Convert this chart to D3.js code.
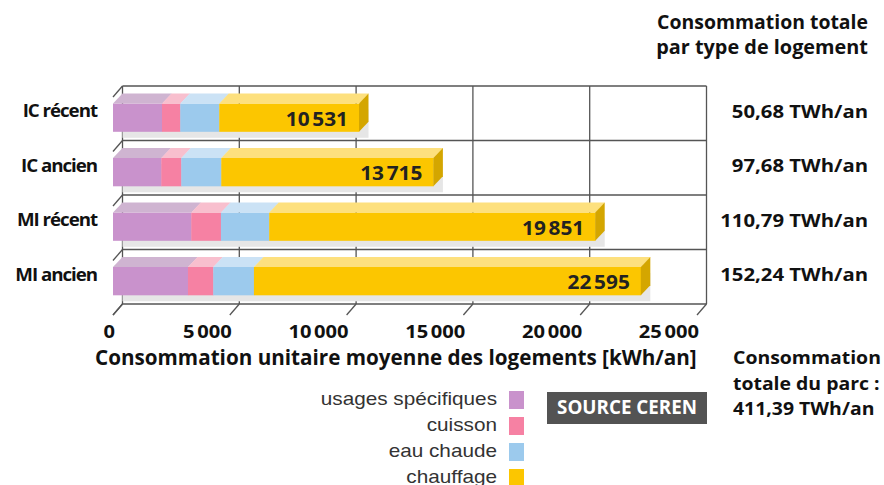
<!DOCTYPE html>
<html>
<head>
	<meta charset="utf-8">
	<script src="https://cdnjs.cloudflare.com/ajax/libs/d3/7.8.5/d3.min.js"></script>
	<style>
	body { margin: 0; background: #fff; }
	text { font-family: "Open Sans", sans-serif; }
	.bold { font-weight: bold; fill: #111; }
	.legend text { font-family: "Liberation Sans", Arial, sans-serif; fill: #333; }
	.wall line { stroke: #555; stroke-width: 1.3px; }
	</style>
</head>
<body>
	<svg width="884" height="485"></svg>
	<script>
	// data
	let categories = ["IC récent", "IC ancien", "MI récent", "MI ancien"];
	let usagesSpecifiques = [2097, 2067, 3350, 3209];
	let cuisson = [783, 856, 1270, 1083];
	let eauChaude = [1669, 1712, 2067, 1741];
	let chauffage = [5982, 9080, 13955, 16562];
	let totalLabels = [10531, 13715, 19851, 22595];
	let totalTWh = ["50,68", "97,68", "110,79", "152,24"];
	let xTicks = [0, 5000, 10000, 15000, 20000, 25000];

	let seriesNames = ["usages spécifiques", "cuisson", "eau chaude", "chauffage"];
	let frontColors = ["#c992cc", "#f681a3", "#9ccaed", "#fcc600"];
	let topColors = ["#cfb4d1", "#f8bfce", "#cbe2f5", "#fde07e"];
	let sideColor = "#d4a600";

	let svg = d3.select("svg");

	//scales
	let x = d3.scaleLinear().domain([0, 25000]).range([113, 697]);
	let y = d3.scaleBand().domain(categories).range([86, 304]);
	let dx = 9.5, dy = 11;      // depth of the back wall
	let bdx = 9.5, bdy = 10;    // depth of the bars
	let barOff = 17.5, barH = 28.3;

	let fmt = function(v) { return d3.format(",")(v).replace(/,/g, "\u202F"); };

	//fit text to a measured width by scaling font size
	function fit(sel, w) {
		sel.each(function() {
			let fs = parseFloat(this.getAttribute("font-size"));
			let l = this.getComputedTextLength();
			this.setAttribute("font-size", (fs * w / l).toFixed(2));
		});
	}
	//stretch text horizontally by a factor
	function widen(sel, f) {
		sel.each(function() {
			let l = this.getComputedTextLength();
			this.setAttribute("textLength", (l * f).toFixed(1));
			this.setAttribute("lengthAdjust", "spacingAndGlyphs");
		});
	}

	//back wall
	let wall = svg.append("g").attr("class", "wall");
	wall.selectAll(".v").data(xTicks).enter().append("line")
		.attr("x1", d => x(d) + dx).attr("x2", d => x(d) + dx)
		.attr("y1", 86).attr("y2", 304);
	let hLines = categories.map(c => y(c)).concat([304]);
	wall.selectAll(".h").data(hLines).enter().append("line")
		.attr("x1", x(0) + dx).attr("x2", x(25000) + dx)
		.attr("y1", d => d).attr("y2", d => d);
	wall.selectAll(".dl").data(hLines).enter().append("line")
		.attr("x1", x(0) + dx).attr("x2", x(0))
		.attr("y1", d => d).attr("y2", d => d + dy);
	wall.selectAll(".db").data(xTicks).enter().append("line")
		.attr("x1", d => x(d) + dx).attr("x2", d => x(d))
		.attr("y1", 304).attr("y2", 304 + dy);

	//stack
	let rows = categories.map(function(c, i) {
		let vals = [usagesSpecifiques[i], cuisson[i], eauChaude[i], chauffage[i]];
		let acc = 0, segs = vals.map(function(v, k) {
			let s = {k: k, x0: acc, x1: acc + v};
			acc += v;
			return s;
		});
		return {cat: c, segs: segs, total: acc, label: totalLabels[i], twh: totalTWh[i]};
	});

	let bar = svg.selectAll(".bar").data(rows).enter().append("g").attr("class", "bar");

	//shadow
	bar.append("rect")
		.attr("x", x(0) + bdx)
		.attr("y", d => y(d.cat) + barOff + 6)
		.attr("width", d => x(d.total) - x(0))
		.attr("height", barH)
		.attr("fill", "#e6e6e6");

	//front faces
	bar.selectAll(".front").data(d => d.segs.map(s => Object.assign({cat: d.cat}, s))).enter().append("rect")
		.attr("x", s => x(s.x0))
		.attr("y", s => y(s.cat) + barOff)
		.attr("width", s => x(s.x1) - x(s.x0) + 0.3)
		.attr("height", barH)
		.attr("fill", s => frontColors[s.k]);

	//top faces
	bar.selectAll(".top").data(d => d.segs.map(s => Object.assign({cat: d.cat}, s))).enter().append("path")
		.attr("d", function(s) {
			let t = y(s.cat) + barOff, a = x(s.x0), b = x(s.x1) + 0.3;
			return "M" + a + "," + t + "L" + b + "," + t + "L" + (b + bdx) + "," + (t - bdy) + "L" + (a + bdx) + "," + (t - bdy) + "Z";
		})
		.attr("fill", s => topColors[s.k]);

	//side face
	bar.append("path")
		.attr("d", function(d) {
			let t = y(d.cat) + barOff, b = x(d.total);
			return "M" + b + "," + t + "L" + (b + bdx) + "," + (t - bdy) + "L" + (b + bdx) + "," + (t - bdy + barH) + "L" + b + "," + (t + barH) + "Z";
		})
		.attr("fill", sideColor);

	//value labels
	bar.append("text")
		.attr("class", "bold")
		.attr("x", d => x(d.total) - 11)
		.attr("y", d => y(d.cat) + barOff + 22)
		.attr("text-anchor", "end")
		.attr("font-size", 20)
		.style("fill", "#222")
		.text(d => fmt(d.label))
		.call(widen, 1.04);

	//category labels
	svg.selectAll(".cat").data(rows).enter().append("text")
		.attr("class", "bold")
		.attr("x", 97)
		.attr("y", d => y(d.cat) + y.bandwidth() / 2 + 4)
		.attr("text-anchor", "end")
		.attr("font-size", 18)
		.attr("letter-spacing", -1)
		.text(d => d.cat)
		.call(widen, 1.04);

	//right totals
	svg.selectAll(".twh").data(rows).enter().append("text")
		.attr("class", "bold")
		.attr("x", 868)
		.attr("y", d => y(d.cat) + y.bandwidth() / 2 + 4.5)
		.attr("text-anchor", "end")
		.attr("font-size", 17.5)
		.text(d => d.twh + " TWh/an")
		.call(widen, 1.16);

	//x tick labels
	svg.selectAll(".tick").data(xTicks).enter().append("text")
		.attr("class", "bold")
		.attr("x", d => x(d) + 2)
		.attr("y", 338)
		.attr("text-anchor", "end")
		.attr("font-size", 17.5)
		.text(d => fmt(d))
		.call(widen, 1.15);

	svg.append("text")
		.attr("class", "bold")
		.attr("x", 95).attr("y", 365)
		.attr("font-size", 17)
		.text("Consommation unitaire moyenne des logements [kWh/an]")
		.call(fit, 602);

	//top right title
	svg.append("text").attr("class", "bold").attr("x", 868).attr("y", 29)
		.attr("text-anchor", "end").attr("font-size", 17)
		.text("Consommation totale").call(fit, 211);
	svg.append("text").attr("class", "bold").attr("x", 868).attr("y", 54)
		.attr("text-anchor", "end").attr("font-size", 17)
		.text("par type de logement").call(fit, 212);

	//bottom right total
	let park = ["Consommation", "totale du parc :", "411,39 TWh/an"];
	svg.selectAll(".park").data(park).enter().append("text")
		.attr("class", "bold")
		.attr("x", 733)
		.attr("y", (d, i) => 364 + i * 25.5)
		.attr("font-size", 17.5)
		.text(d => d)
		.call(widen, 1.11);

	//source box
	svg.append("rect").attr("x", 547).attr("y", 392).attr("width", 160).attr("height", 32).attr("fill", "#535353");
	svg.append("text").attr("class", "bold").attr("x", 627).attr("y", 414)
		.attr("text-anchor", "middle").attr("font-size", 15).style("fill", "#fff")
		.text("SOURCE CEREN").call(fit, 140);

	//legend
	let legend = svg.append("g").attr("class", "legend");
	let item = legend.selectAll("g").data(seriesNames).enter().append("g")
		.attr("transform", (d, i) => "translate(0," + (391 + i * 26) + ")");
	item.append("rect").attr("x", 509).attr("width", 15).attr("height", 18)
		.attr("fill", (d, i) => frontColors[i]);
	item.append("text").attr("x", 497).attr("y", 14)
		.attr("text-anchor", "end").attr("font-size", 18.5)
		.text(d => d)
		.call(widen, 1.12);
	</script>
</body>
</html>
